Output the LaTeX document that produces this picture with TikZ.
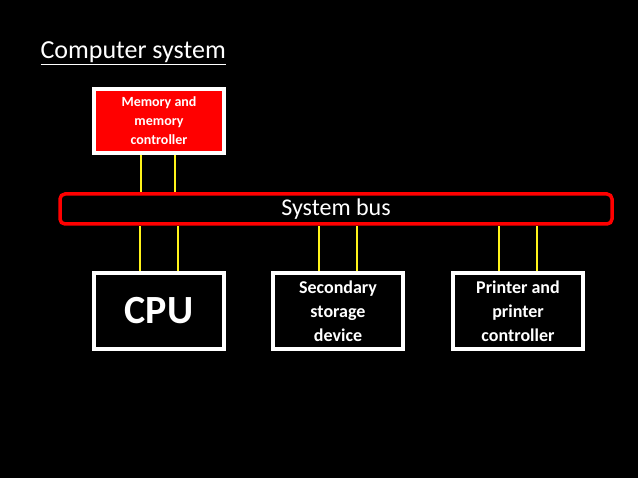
\documentclass[tikz,border=0pt]{standalone}
\usepackage{fontspec}
\setmainfont{Carlito}
\tikzset{
  unit/.style = { draw=white, line width=3.5pt, minimum width=130pt, minimum height=76pt,
                  font=\bfseries\fontsize{18}{24}\selectfont, text=white, align=center, fill=black },
  wire/.style = { draw=yellow!90!white, line width=2pt },
}
\begin{document}
\begin{tikzpicture}[x=1pt,y=-1pt]
  \fill[black] (0,0) rectangle (638,478);
  \useasboundingbox (0,0) rectangle (638,478);
  \node[anchor=base west, text=white, font=\fontsize{26}{30}\selectfont] (title) at (37,59) {\underline{Computer system}};
  \node[unit, fill=red, minimum height=64pt, font=\bfseries\fontsize{14}{19}\selectfont] (mem) at (159,121) {Memory and\\memory\\controller};
  \node[draw=red, line width=3.5pt, rounded corners=5pt, fill=black, minimum width=552pt, minimum height=30pt,
        text=white, font=\fontsize{24}{28}\selectfont, inner sep=0pt] (bus) at (336,209) {System bus};
  \node[unit, font=\bfseries\fontsize{40}{44}\selectfont] (cpu) at (159,311) {CPU};
  \node[unit] (sec) at (338,311) {Secondary\\storage\\device};
  \node[unit] (prn) at (518,311) {Printer and\\printer\\controller};
  \foreach \n in {mem} \foreach \d in {-18,16}
    \draw[wire] ([xshift=\d pt]\n.south) -- ([xshift=\d pt]\n.south |- bus.north);
  \foreach \n in {cpu,sec,prn} \foreach \d in {-19,19}
    \draw[wire] ([xshift=\d pt]\n.north) -- ([xshift=\d pt]\n.north |- bus.south);
\end{tikzpicture}
\end{document}
